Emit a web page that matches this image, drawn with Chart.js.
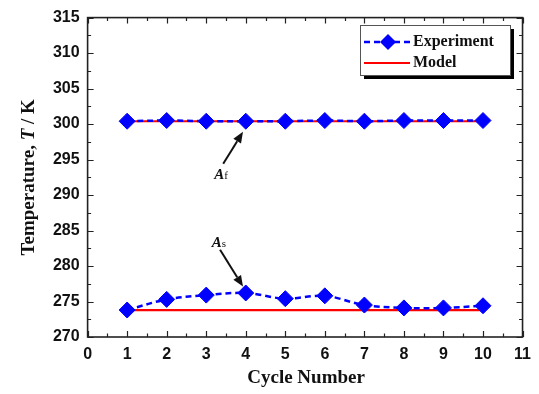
<!DOCTYPE html>
<html>
<head>
<meta charset="utf-8">
<script src="https://cdn.jsdelivr.net/npm/chart.js@4/dist/chart.umd.min.js"></script>
<style>
html,body{margin:0;padding:0;background:#fff;}
#wrap{width:539px;height:394px;position:relative;}
</style>
</head>
<body>
<div id="wrap"><canvas id="c" width="539" height="394"></canvas></div>
<script>
const cycles = [1, 2, 3, 4, 5, 6, 7, 8, 9, 10];
const afExperiment = [300.4, 300.5, 300.4, 300.4, 300.4, 300.5, 300.4, 300.5, 300.5, 300.5];
const afModel = [300.4, 300.4, 300.4, 300.4, 300.4, 300.4, 300.4, 300.4, 300.4, 300.4];
const asExperiment = [273.8, 275.3, 275.9, 276.2, 275.4, 275.8, 274.5, 274.1, 274.1, 274.4];
const asModel = [273.8, 273.8, 273.8, 273.8, 273.8, 273.8, 273.8, 273.8, 273.8, 273.8];
const xTicks = [0, 1, 2, 3, 4, 5, 6, 7, 8, 9, 10, 11];
const yTicks = [270, 275, 280, 285, 290, 295, 300, 305, 310, 315];
const seriesNames = ["Experiment", "Model"];
const xTitle = "Cycle Number";
const yTitleParts = [["Temperature, ", false], ["T", true], [" / K", false]];
const annotations = [
  {main: "A", sub: "f", lx: 3.2, ly: 292.9, ax0: 3.43, ay0: 294.4, ax1: 3.93, ay1: 298.9},
  {main: "A", sub: "s", lx: 3.14, ly: 283.4, ax0: 3.35, ay0: 282.3, ax1: 3.93, ay1: 277.1}
];

const BLUE = "#0000ff", RED = "#ff0000";
const pts = (arr) => cycles.map((c, i) => ({x: c, y: arr[i]}));

const expStyle = {
  borderColor: BLUE, backgroundColor: BLUE, borderWidth: 2.5, borderDash: [6, 4],
  pointStyle: "rectRot", pointRadius: 8, pointBackgroundColor: BLUE, pointBorderColor: BLUE,
  pointBorderWidth: 1, tension: 0.35, showLine: true
};
const modelStyle = {
  borderColor: RED, backgroundColor: RED, borderWidth: 2.2, pointRadius: 0, tension: 0, showLine: true
};

const framePlugin = {
  id: "frame",
  afterDatasetsDraw(chart) {
    const ctx = chart.ctx, a = chart.chartArea, xs = chart.scales.x, ys = chart.scales.y;
    ctx.save();
    ctx.strokeStyle = "#222";
    ctx.lineWidth = 1.6;
    ctx.strokeRect(a.left, a.top, a.right - a.left, a.bottom - a.top);
    ctx.lineWidth = 1.2;
    ctx.beginPath();
    for (let v = xs.min; v <= xs.max + 1e-9; v += 0.5) {
      const px = Math.round(xs.getPixelForValue(v)) + 0.5;
      const major = Math.abs(v - Math.round(v)) < 1e-9;
      const len = major ? 6 : 3.5;
      ctx.moveTo(px, a.bottom); ctx.lineTo(px, a.bottom - len);
      ctx.moveTo(px, a.top); ctx.lineTo(px, a.top + len);
    }
    for (let v = ys.min; v <= ys.max + 1e-9; v += 2.5) {
      const py = Math.round(ys.getPixelForValue(v)) + 0.5;
      const major = Math.abs(v / 5 - Math.round(v / 5)) < 1e-9;
      const len = major ? 6 : 3.5;
      ctx.moveTo(a.left, py); ctx.lineTo(a.left + len, py);
      ctx.moveTo(a.right, py); ctx.lineTo(a.right - len, py);
    }
    ctx.stroke();
    ctx.restore();
  },
  afterDraw(chart) {
    const ctx = chart.ctx, a = chart.chartArea, xs = chart.scales.x, ys = chart.scales.y;
    ctx.save();
    ctx.fillStyle = "#111";
    ctx.font = "bold 19px 'Liberation Serif', 'Times New Roman', serif";
    ctx.textAlign = "center"; ctx.textBaseline = "middle";
    ctx.fillText(xTitle, (a.left + a.right) / 2 + 1, 378);
    ctx.save();
    ctx.translate(29, (a.top + a.bottom) / 2);
    ctx.rotate(-Math.PI / 2);
    const fonts = it => (it ? "italic bold 19px " : "bold 19px ") + "'Liberation Serif', 'Times New Roman', serif";
    let total = 0;
    yTitleParts.forEach(p => { ctx.font = fonts(p[1]); total += ctx.measureText(p[0]).width; });
    let cx = -total / 2;
    ctx.textAlign = "left";
    yTitleParts.forEach(p => { ctx.font = fonts(p[1]); ctx.fillText(p[0], cx, 0); cx += ctx.measureText(p[0]).width; });
    ctx.restore();

    const lx = 360, ly = 25, lw = 150, lh = 50;
    ctx.fillStyle = "#000";
    ctx.fillRect(lx + lw, ly + 4, 4, lh);
    ctx.fillRect(lx + 4, ly + lh, lw, 4);
    ctx.fillStyle = "#fff";
    ctx.fillRect(lx, ly, lw, lh);
    ctx.strokeStyle = "#555"; ctx.lineWidth = 1;
    ctx.strokeRect(lx + 0.5, ly + 0.5, lw, lh);
    ctx.strokeStyle = BLUE; ctx.lineWidth = 2.5; ctx.setLineDash([6, 4]);
    ctx.beginPath(); ctx.moveTo(364, 42); ctx.lineTo(410, 42); ctx.stroke();
    ctx.setLineDash([]);
    ctx.fillStyle = BLUE;
    ctx.beginPath(); ctx.moveTo(388, 34); ctx.lineTo(396, 42); ctx.lineTo(388, 50); ctx.lineTo(380, 42); ctx.closePath(); ctx.fill();
    ctx.strokeStyle = RED; ctx.lineWidth = 2.2;
    ctx.beginPath(); ctx.moveTo(364, 63); ctx.lineTo(410, 63); ctx.stroke();
    ctx.fillStyle = "#111";
    ctx.font = "bold 16px 'Liberation Serif', 'Times New Roman', serif";
    ctx.textAlign = "left"; ctx.textBaseline = "middle";
    ctx.fillText(seriesNames[0], 413, 42);
    ctx.fillText(seriesNames[1], 413, 63);

    annotations.forEach(an => {
      const x = xs.getPixelForValue(an.lx), y = ys.getPixelForValue(an.ly);
      ctx.fillStyle = "#111";
      ctx.textAlign = "left"; ctx.textBaseline = "alphabetic";
      ctx.font = "italic bold 15px 'Liberation Serif', 'Times New Roman', serif";
      ctx.fillText(an.main, x, y + 5);
      const w = ctx.measureText(an.main).width;
      ctx.font = "11px 'Liberation Serif', 'Times New Roman', serif";
      ctx.fillText(an.sub, x + w, y + 5);
      const x0 = xs.getPixelForValue(an.ax0), y0 = ys.getPixelForValue(an.ay0);
      const x1 = xs.getPixelForValue(an.ax1), y1 = ys.getPixelForValue(an.ay1);
      const ang = Math.atan2(y1 - y0, x1 - x0);
      const hl = 11, hw = 4.5;
      const bx = x1 - hl * Math.cos(ang), by = y1 - hl * Math.sin(ang);
      ctx.strokeStyle = "#111"; ctx.lineWidth = 2;
      ctx.beginPath(); ctx.moveTo(x0, y0); ctx.lineTo(bx, by); ctx.stroke();
      ctx.fillStyle = "#111";
      ctx.beginPath();
      ctx.moveTo(x1, y1);
      ctx.lineTo(bx + hw * Math.sin(ang), by - hw * Math.cos(ang));
      ctx.lineTo(bx - hw * Math.sin(ang), by + hw * Math.cos(ang));
      ctx.closePath(); ctx.fill();
    });
    ctx.restore();
  }
};

new Chart(document.getElementById("c"), {
  type: "scatter",
  data: {
    datasets: [
      Object.assign({label: seriesNames[0], data: pts(afExperiment)}, expStyle),
      Object.assign({label: seriesNames[0], data: pts(asExperiment)}, expStyle),
      Object.assign({label: seriesNames[1], data: pts(afModel)}, modelStyle),
      Object.assign({label: seriesNames[1], data: pts(asModel)}, modelStyle)
    ]
  },
  options: {
    responsive: false,
    animation: false,
    layout: {padding: {left: 0, top: 15, right: 10, bottom: 0}},
    plugins: {legend: {display: false}, tooltip: {enabled: false}},
    scales: {
      x: {
        type: "linear", min: 0, max: 11,
        grid: {display: false, drawTicks: false}, border: {display: false},
        afterBuildTicks: s => { s.ticks = xTicks.map(v => ({value: v})); },
        afterFit: s => { s.height = 57; },
        ticks: {padding: 8, color: "#111", font: {family: "'Liberation Sans', Arial, sans-serif", weight: "bold", size: 16}, maxRotation: 0}
      },
      y: {
        type: "linear", min: 270, max: 315,
        grid: {display: false, drawTicks: false}, border: {display: false},
        afterBuildTicks: s => { s.ticks = yTicks.map(v => ({value: v})); },
        afterFit: s => { s.width = 87.6; },
        ticks: {padding: 8, color: "#111", font: {family: "'Liberation Sans', Arial, sans-serif", weight: "bold", size: 16}}
      }
    }
  },
  plugins: [framePlugin]
});
</script>
</body>
</html>
